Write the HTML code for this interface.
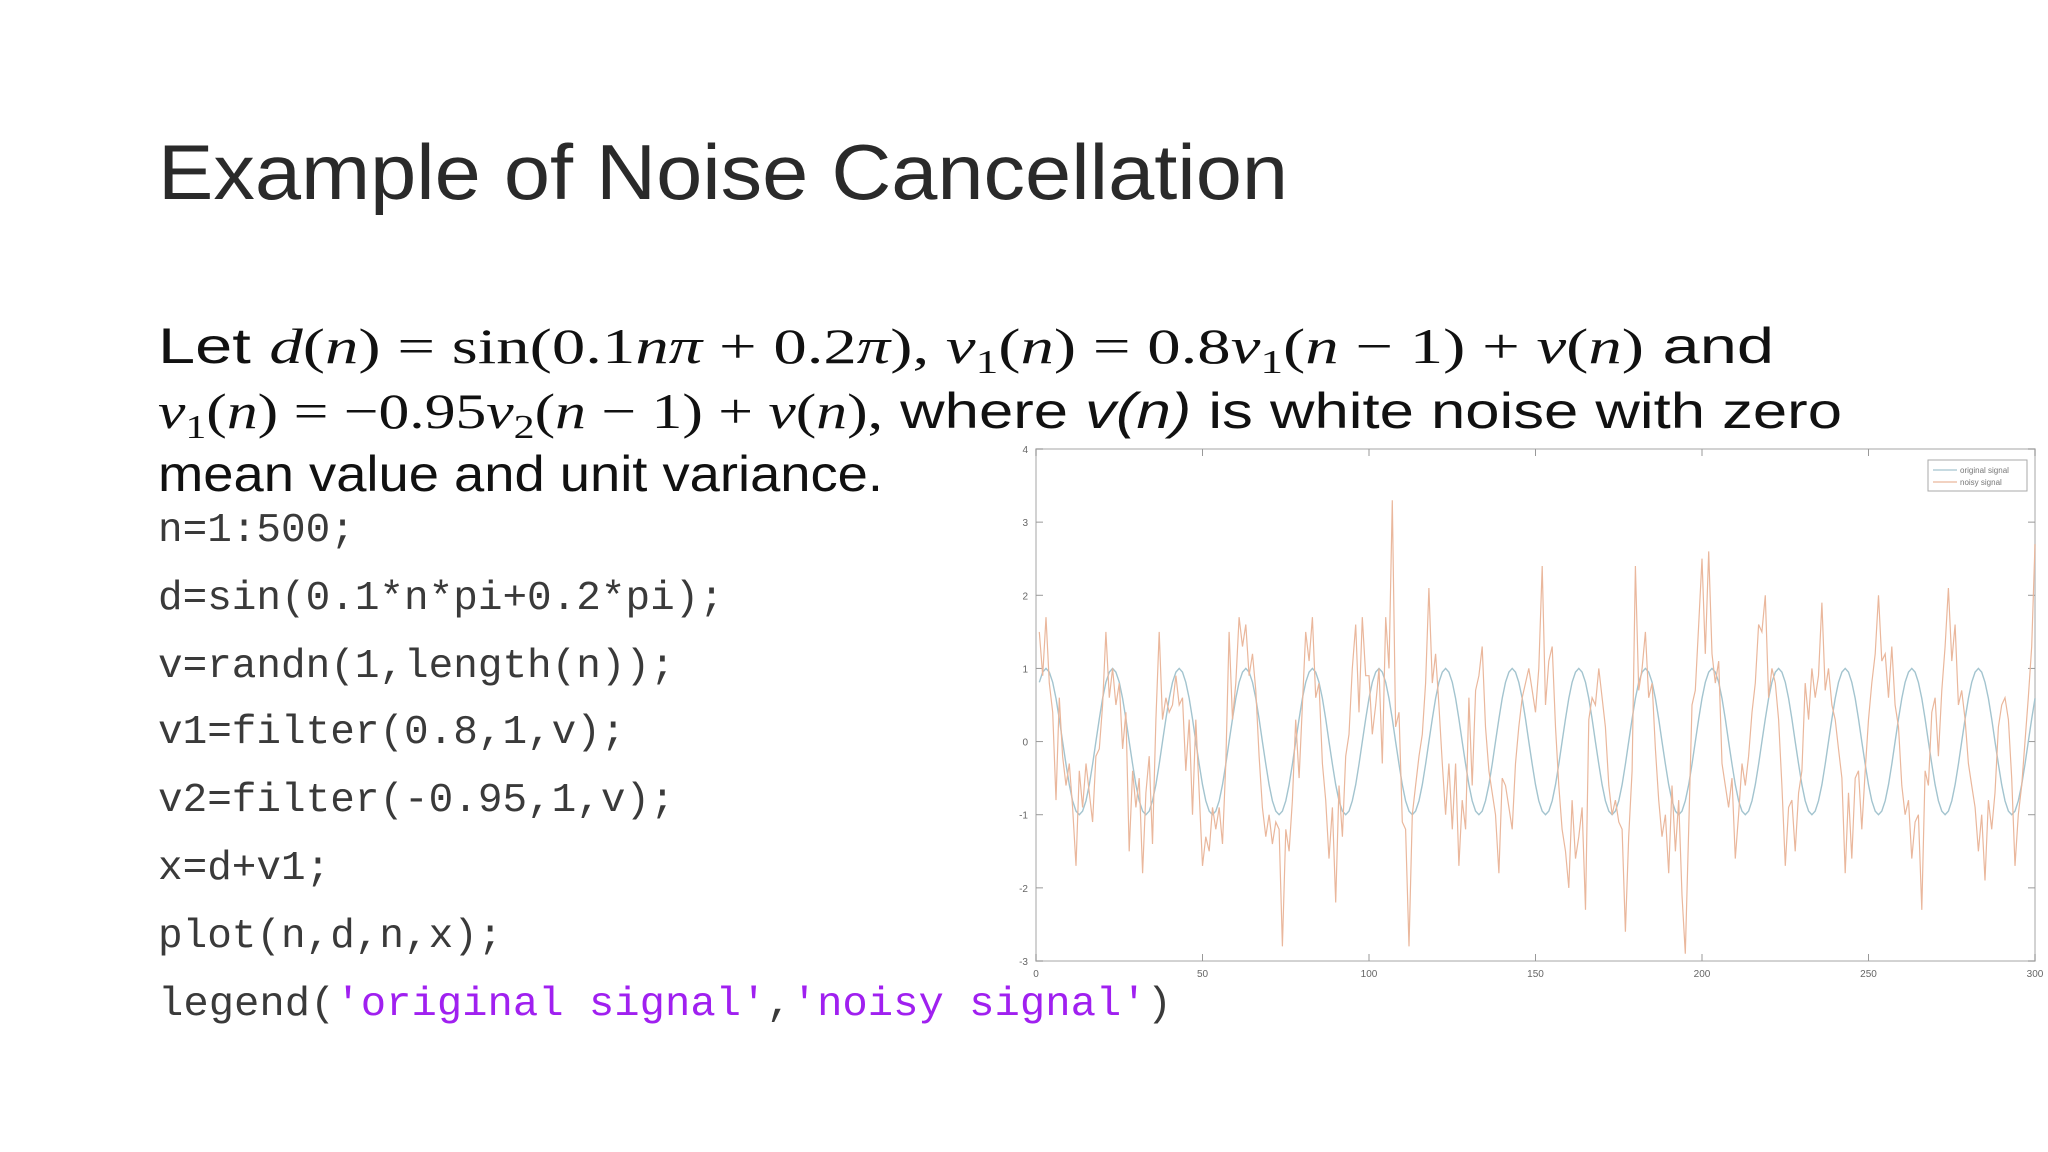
<!DOCTYPE html>
<html><head><meta charset="utf-8"><style>
html,body{margin:0;padding:0;background:#fff;}
svg{display:block;}
</style></head><body>
<svg id="slide" width="2048" height="1152" viewBox="0 0 2048 1152" xmlns="http://www.w3.org/2000/svg">
<rect width="2048" height="1152" fill="#ffffff"/>
<text x="158" y="199" font-family="Liberation Sans, sans-serif" font-size="78" fill="#2a2a2a" textLength="1130" lengthAdjust="spacingAndGlyphs">Example of Noise Cancellation</text>
<g font-family="Liberation Sans, sans-serif" font-size="50" fill="#111">
<text x="158" y="363" textLength="1616" lengthAdjust="spacingAndGlyphs">Let <tspan font-family="Liberation Serif, serif" font-style="italic">d</tspan><tspan font-family="Liberation Serif, serif">(<tspan font-style="italic">n</tspan>) = sin(0.1<tspan font-style="italic">nπ</tspan> + 0.2<tspan font-style="italic">π</tspan>), <tspan font-style="italic">v</tspan><tspan font-size="34" dy="10">1</tspan><tspan dy="-10">(<tspan font-style="italic">n</tspan>) = 0.8<tspan font-style="italic">v</tspan></tspan><tspan font-size="34" dy="10">1</tspan><tspan dy="-10">(<tspan font-style="italic">n</tspan> − 1) + <tspan font-style="italic">v</tspan>(<tspan font-style="italic">n</tspan>)</tspan></tspan> and</text>
<text x="158" y="428" textLength="1684" lengthAdjust="spacingAndGlyphs"><tspan font-family="Liberation Serif, serif"><tspan font-style="italic">v</tspan><tspan font-size="34" dy="10">1</tspan><tspan dy="-10">(<tspan font-style="italic">n</tspan>) = −0.95<tspan font-style="italic">v</tspan></tspan><tspan font-size="34" dy="10">2</tspan><tspan dy="-10">(<tspan font-style="italic">n</tspan> − 1) + <tspan font-style="italic">v</tspan>(<tspan font-style="italic">n</tspan>),</tspan></tspan> where <tspan font-style="italic">v(n)</tspan> is white noise with zero</text>
<text x="158" y="491" textLength="725" lengthAdjust="spacingAndGlyphs">mean value and unit variance.</text>
</g>
<g font-family="Liberation Mono, monospace" font-size="41" fill="#3a3a3a">
<text x="158" y="541">n=1:500;</text>
<text x="158" y="609">d=sin(0.1*n*pi+0.2*pi);</text>
<text x="158" y="677">v=randn(1,length(n));</text>
<text x="158" y="743">v1=filter(0.8,1,v);</text>
<text x="158" y="811">v2=filter(-0.95,1,v);</text>
<text x="158" y="879">x=d+v1;</text>
<text x="158" y="947">plot(n,d,n,x);</text>
<text x="158" y="1015" textLength="1014" lengthAdjust="spacingAndGlyphs">legend(<tspan fill="#a020f0">'original signal'</tspan>,<tspan fill="#a020f0">'noisy signal'</tspan>)</text>
</g>
<g id="chart"></g>
</svg>
<script>
const xTicks = [0, 50, 100, 150, 200, 250, 300];
const yTicks = [-3, -2, -1, 0, 1, 2, 3, 4];
const dCycle = [0.81, 0.95, 1, 0.95, 0.81, 0.59, 0.31, 0, -0.31, -0.59, -0.81, -0.95, -1, -0.95, -0.81, -0.59, -0.31, 0, 0.31, 0.59];
const noisy = [
1.5,0.9,1.7,0.8,0.4,-0.8,0.6,-0.2,-0.6,-0.3,-0.9,-1.7,-0.4,-0.9,-0.3,-0.7,-1.1,-0.2,-0.1,0.5,
1.5,0.6,1.0,0.5,0.8,-0.1,0.4,-1.5,-0.4,-0.9,-0.5,-1.8,-0.7,-0.2,-1.4,0.3,1.5,0.3,0.6,0.4,
0.5,0.9,0.5,0.6,-0.4,0.3,-1.0,0.3,-0.7,-1.7,-1.3,-1.5,-0.9,-1.2,-0.9,-1.4,-0.3,1.5,0.3,0.8,
1.7,1.3,1.6,0.9,1.2,0.7,-0.2,-0.9,-1.3,-1.0,-1.4,-1.1,-1.2,-2.8,-1.2,-1.5,-0.8,0.3,-0.5,0.5,
1.5,1.1,1.7,0.6,0.8,-0.3,-0.8,-1.6,-0.9,-2.2,-0.6,-1.3,-0.2,0.1,1.0,1.6,0.4,1.7,0.9,0.9,
0.1,0.5,1.0,-0.3,1.7,1.0,3.3,0.2,0.4,-1.1,-1.2,-2.8,-1.0,-0.6,-0.2,0.1,0.8,2.1,0.8,1.2,
0.5,-0.3,-1.0,-0.3,-1.2,-0.3,-1.7,-0.8,-1.2,0.6,-0.6,0.7,0.9,1.3,0.2,-0.4,-0.7,-1.0,-1.8,-0.5,
-0.6,-0.9,-1.2,-0.3,0.2,0.6,0.8,1.0,0.7,0.4,1.0,2.4,0.5,1.1,1.3,0.2,-0.6,-1.2,-1.5,-2.0,
-0.8,-1.6,-1.3,-0.9,-2.3,0.3,0.6,0.5,1.0,0.6,0.2,-0.6,-1.0,-0.8,-1.1,-1.2,-2.6,-1.3,-0.4,2.4,
0.7,1.0,1.5,0.6,0.8,-0.1,-0.8,-1.3,-1.0,-1.8,-0.6,-1.5,-0.8,-2.1,-2.9,-1.2,0.5,0.7,1.6,2.5,
1.2,2.6,1.2,0.8,1.1,-0.3,-0.6,-0.9,-0.5,-1.6,-1.0,-0.3,-0.6,-0.2,0.4,0.8,1.6,1.5,2.0,0.6,
1.0,0.8,0.3,-0.6,-1.7,-0.9,-0.8,-1.5,-0.7,-0.4,0.8,0.3,1.0,0.6,0.9,1.9,0.7,1.0,0.5,0.3,
-0.1,-0.5,-1.8,-0.7,-1.6,-0.5,-0.4,-1.2,-0.4,0.3,0.8,1.2,2.0,1.1,1.2,0.6,1.3,0.5,0.2,-0.6,
-1.0,-0.8,-1.6,-1.1,-1.0,-2.3,-0.4,-0.6,0.4,0.6,-0.2,0.7,1.3,2.1,1.1,1.6,0.5,0.7,0.3,-0.3,
-0.6,-0.9,-1.5,-1.0,-1.9,-0.8,-1.2,-0.7,0.2,0.5,0.6,0.3,-0.5,-1.7,-1.0,-0.6,0.0,0.6,1.3,2.7
];
const legendLabels = ['original signal', 'noisy signal'];

const NS = 'http://www.w3.org/2000/svg';
const g = document.getElementById('chart');
const L = 1036, R = 2035, T = 449, B = 961;
const xMin = 0, xMax = 300, yMin = -3, yMax = 4;
const xs = v => L + (v - xMin) / (xMax - xMin) * (R - L);
const ys = v => B - (v - yMin) / (yMax - yMin) * (B - T);
function mk(tag, attrs, parent) {
  const e = document.createElementNS(NS, tag);
  for (const k in attrs) e.setAttribute(k, attrs[k]);
  (parent || g).appendChild(e);
  return e;
}
const frame = mk('rect', {x: L, y: T, width: R - L, height: B - T, fill: '#fff', stroke: '#c4c4c4', 'stroke-width': 1.5});


xTicks.forEach(t => {
  const x = xs(t);
  mk('line', {x1: x, y1: B, x2: x, y2: B - 7, stroke: '#999'});
  mk('line', {x1: x, y1: T, x2: x, y2: T + 7, stroke: '#999'});
  const lab = mk('text', {x: x, y: B + 16, 'font-family': 'Liberation Sans, sans-serif', 'font-size': 10, fill: '#666', 'text-anchor': 'middle'});
  lab.textContent = t;
  
  
});
yTicks.forEach(t => {
  const y = ys(t);
  mk('line', {x1: L, y1: y, x2: L + 7, y2: y, stroke: '#999'});
  mk('line', {x1: R, y1: y, x2: R - 7, y2: y, stroke: '#999'});
  const lab = mk('text', {x: L - 8, y: y + 4, 'font-family': 'Liberation Sans, sans-serif', 'font-size': 10, fill: '#666', 'text-anchor': 'end'});
  lab.textContent = t;
  
  
});
let pd = '', pn = '';
noisy.forEach((v, i) => {
  const n = i + 1;
  if (n > xMax) return;
  pn += (i ? 'L' : 'M') + xs(n).toFixed(1) + ',' + ys(v).toFixed(1);
  pd += (i ? 'L' : 'M') + xs(n).toFixed(1) + ',' + ys(dCycle[i % dCycle.length]).toFixed(1);
});
const lineO = mk('path', {d: pd, fill: 'none', stroke: '#a3c4cf', 'stroke-width': 1.4});


const lineN = mk('path', {d: pn, fill: 'none', stroke: '#eab79c', 'stroke-width': 1.2});


const lg = mk('g', {});


mk('rect', {x: 1928, y: 460, width: 99, height: 31, fill: '#fff', stroke: '#aaa'}, lg);
legendLabels.forEach((s, i) => {
  const y = 470 + i * 12;
  mk('line', {x1: 1933, y1: y, x2: 1957, y2: y, stroke: i ? '#eab79c' : '#a3c4cf', 'stroke-width': 1.2}, lg);
  const tx = mk('text', {x: 1960, y: y + 3, 'font-family': 'Liberation Sans, sans-serif', 'font-size': 8, fill: '#777'}, lg);
  tx.textContent = s;
  
  
});
</script>
</body></html>
